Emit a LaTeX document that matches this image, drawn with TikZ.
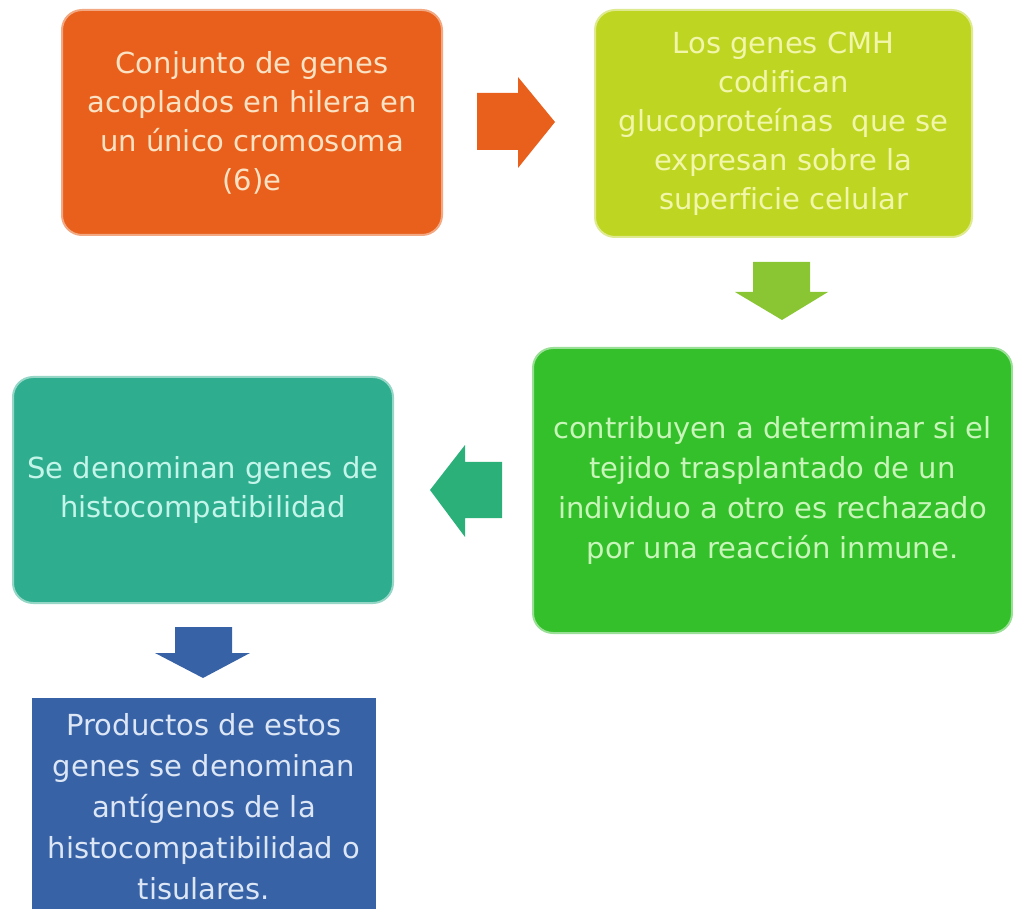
\documentclass[tikz,border=0pt]{standalone}
\usepackage{fontspec}
\setmainfont{DejaVu Sans}[Ligatures=NoCommon]
\definecolor{naranja}{RGB}{232,96,28}
\definecolor{lima}{RGB}{190,214,34}
\definecolor{verde}{RGB}{52,192,42}
\definecolor{verdeflecha}{RGB}{138,198,52}
\definecolor{turquesa}{RGB}{46,174,142}
\definecolor{turquesaflecha}{RGB}{44,176,122}
\definecolor{azul}{RGB}{55,98,166}
\tikzset{
caja/.style={
  rectangle,
  rounded corners=10pt,
  line width=1pt,
  inner sep=0pt,
  align=center,
  font=\fontsize{14.5}{19.5}\selectfont,
  }
}

\begin{document}
\begin{tikzpicture}[x=0.5pt,y=-0.5pt]
    \useasboundingbox (0,0) rectangle (1013,909);
    \clip (0,0) rectangle (1013,909);

    % boxes
    \node[caja, fill=naranja, draw=naranja!55!white, text={rgb,255:red,252;green,226;blue,196},
      minimum width=190pt, minimum height=112.5pt] (gen) at (252,122.5)
      {Conjunto de genes\\acoplados en hilera en\\un único cromosoma\\(6)e};
    \node[caja, fill=lima, draw=lima!50!white, text={rgb,255:red,242;green,246;blue,170},
      minimum width=188.5pt, minimum height=113.5pt] (cmh) at (783.5,123.5)
      {Los genes CMH\\codifican\\glucoproteínas\ \ que se\\expresan sobre la\\superficie celular};
    \node[caja, fill=verde, draw=verde!50!white, text={rgb,255:red,200;green,245;blue,185},
      font=\fontsize{14.5}{20}\selectfont,
      minimum width=239.5pt, minimum height=142.5pt] (rech) at (772.5,490.5)
      {contribuyen a determinar si el\\tejido trasplantado de un\\individuo a otro es rechazado\\por una reacción inmune.};
    \node[caja, fill=turquesa, draw=turquesa!50!white, text={rgb,255:red,196;green,245;blue,234},
      minimum width=190pt, minimum height=113pt] (hist) at (203,490)
      {Se denominan genes de\\histocompatibilidad};
    \node[caja, rounded corners=0pt, fill=azul, draw=azul, text={rgb,255:red,220;green,230;blue,245},
      font=\fontsize{14.5}{20.5}\selectfont,
      minimum width=171pt, minimum height=108pt, anchor=north] (prod) at (204,698)
      {Productos de estos\\genes se denominan\\antígenos de la\\histocompatibilidad o\\tisulares.};

    % arrows
    \fill[naranja] (477,93) -- (518,93) -- (518,77) -- (555,122) -- (518,168) -- (518,150) -- (477,150) -- cycle;
    \fill[verdeflecha] (753,262) -- (810,262) -- (810,292) -- (828,292) -- (782,320) -- (735,292) -- (753,292) -- cycle;
    \fill[turquesaflecha] (502,462) -- (465,462) -- (465,445) -- (430,490) -- (465,537) -- (465,518) -- (502,518) -- cycle;
    \fill[azul] (175,627) -- (232,627) -- (232,653) -- (250,653) -- (203,678) -- (155,653) -- (175,653) -- cycle;
\end{tikzpicture}
\end{document}
